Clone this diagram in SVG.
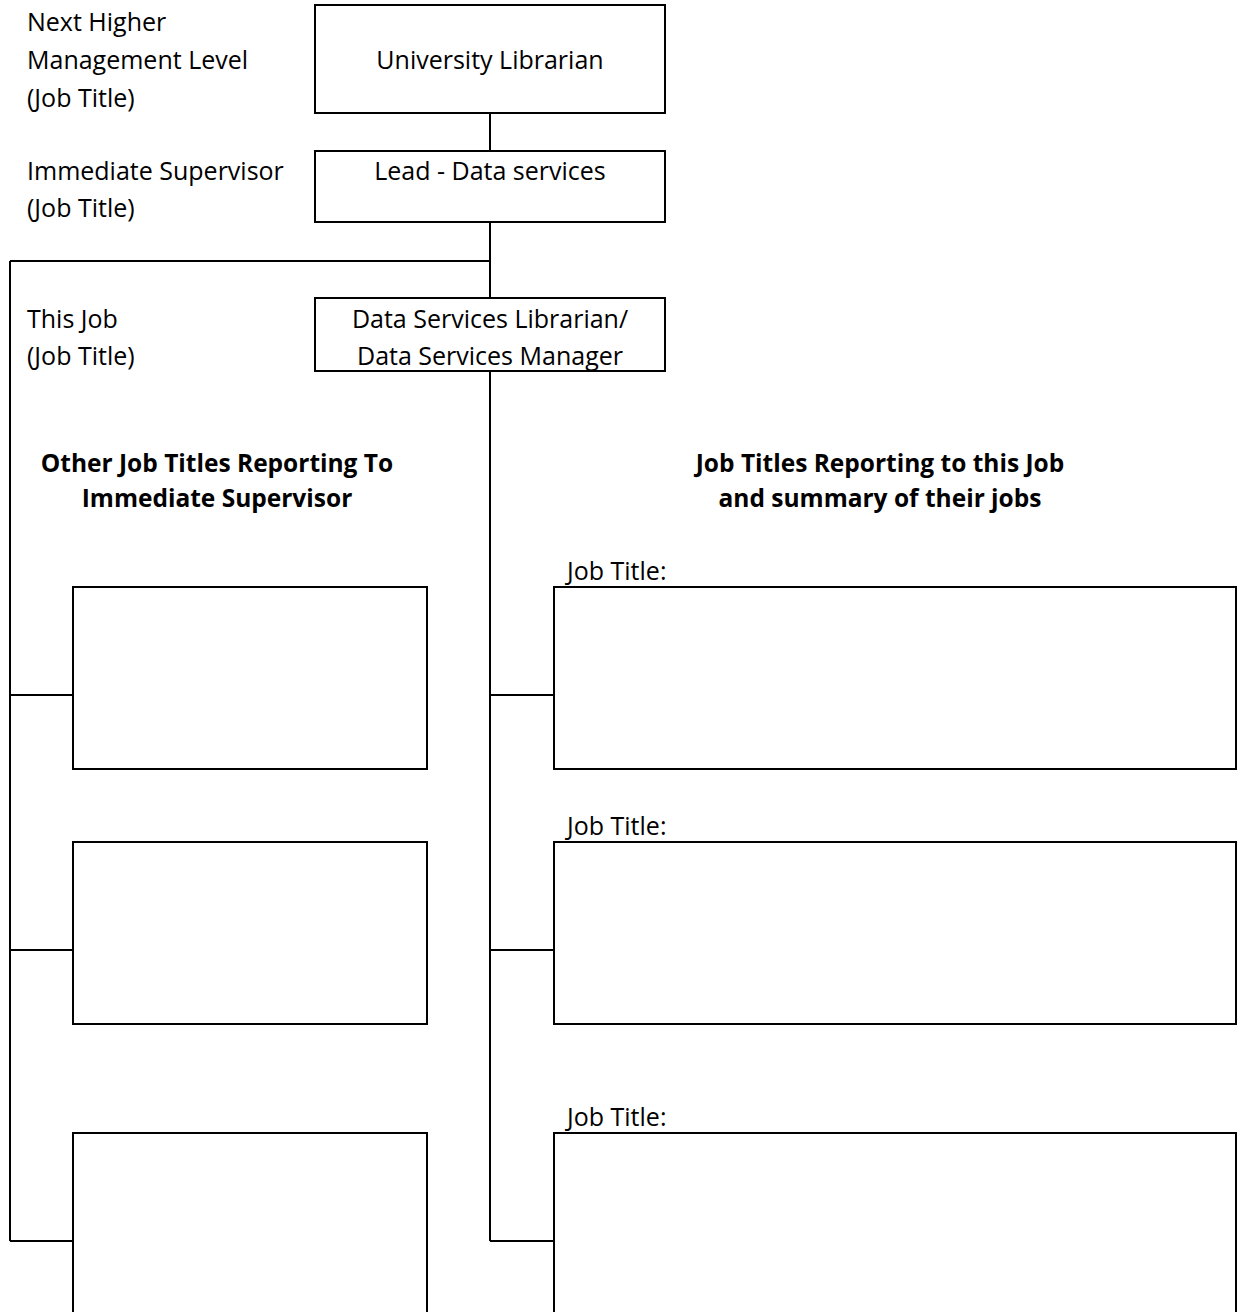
<svg xmlns="http://www.w3.org/2000/svg" width="1240" height="1312" viewBox="0 0 1240 1312">
<style>
  .box { fill: #fff; stroke: #000; stroke-width: 2; }
  .line { fill: none; stroke: #000; stroke-width: 2; }
  text { font-family: "Open Sans", "Liberation Sans", sans-serif; font-size: 25px; fill: #000; }
  .c { text-anchor: middle; }
  .b { font-weight: bold; font-size: 24.5px; }
</style>
<rect x="0" y="0" width="1240" height="1312" fill="#fff"/>
<g id="connectors">
  <path class="line" d="M490 113 V151 M490 222 V298 M10 261 H490 M10 261 V1241 M490 371 V1241"/>
  <path class="line" d="M10 695 H73 M10 950 H73 M10 1241 H73"/>
  <path class="line" d="M490 695 H554 M490 950 H554 M490 1241 H554"/>
</g>
<g id="labels">
  <text x="27" y="31">Next Higher</text>
  <text x="27" y="69">Management Level</text>
  <text x="27" y="107">(Job Title)</text>
  <text x="27" y="180">Immediate Supervisor</text>
  <text x="27" y="217">(Job Title)</text>
  <text x="27" y="328">This Job</text>
  <text x="27" y="365">(Job Title)</text>
</g>
<g id="university-librarian">
  <rect class="box" x="315" y="5" width="350" height="108"/>
  <text class="c" x="490" y="69">University Librarian</text>
</g>
<g id="lead-data-services">
  <rect class="box" x="315" y="151" width="350" height="71"/>
  <text class="c" x="490" y="180">Lead - Data services</text>
</g>
<g id="this-job">
  <rect class="box" x="315" y="298" width="350" height="73"/>
  <text class="c" x="490" y="328">Data Services Librarian/</text>
  <text class="c" x="490" y="365">Data Services Manager</text>
</g>
<g id="heading-left">
  <text class="c b" x="217" y="472">Other Job Titles Reporting To</text>
  <text class="c b" x="217" y="507">Immediate Supervisor</text>
</g>
<g id="heading-right">
  <text class="c b" x="880" y="472">Job Titles Reporting to this Job</text>
  <text class="c b" x="880" y="507">and summary of their jobs</text>
</g>
<g id="peer-1"><rect class="box" x="73" y="587" width="354" height="182"/></g>
<g id="peer-2"><rect class="box" x="73" y="842" width="354" height="182"/></g>
<g id="peer-3"><rect class="box" x="73" y="1133" width="354" height="200"/></g>
<g id="report-1">
  <text x="567" y="580">Job Title:</text>
  <rect class="box" x="554" y="587" width="682" height="182"/>
</g>
<g id="report-2">
  <text x="567" y="835">Job Title:</text>
  <rect class="box" x="554" y="842" width="682" height="182"/>
</g>
<g id="report-3">
  <text x="567" y="1126">Job Title:</text>
  <rect class="box" x="554" y="1133" width="682" height="200"/>
</g>
</svg>
